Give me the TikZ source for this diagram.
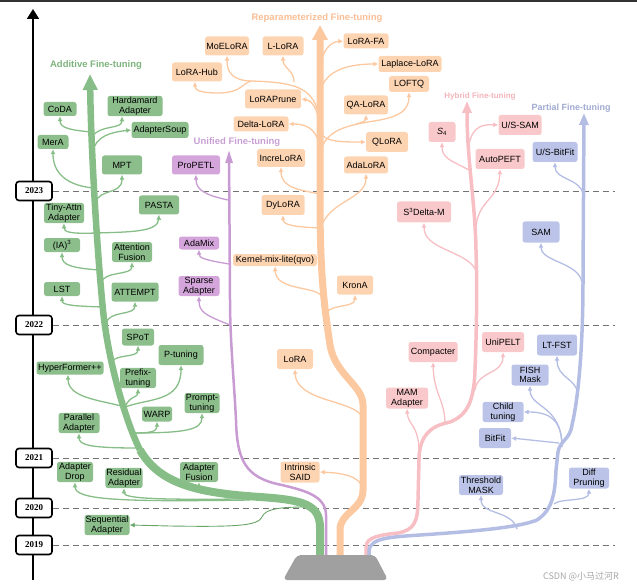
\documentclass[tikz,border=0pt]{standalone}
\usepackage{fontspec}
\setmainfont{Liberation Sans}
\newfontfamily\yearfont{Liberation Serif}
\newfontfamily\cjk{Noto Sans CJK SC}
\usetikzlibrary{arrows.meta,calc}
\pgfdeclarelayer{bg}
\pgfsetlayers{bg,main}

\definecolor{gfill}{RGB}{140,190,140}
\definecolor{gline}{RGB}{135,190,135}
\definecolor{gdark}{RGB}{105,165,105}
\definecolor{gtitle}{RGB}{125,180,125}
\definecolor{ofill}{RGB}{253,212,178}
\definecolor{oline}{RGB}{252,200,160}
\definecolor{otitle}{RGB}{250,190,150}
\definecolor{pfill}{RGB}{212,165,218}
\definecolor{pline}{RGB}{200,155,210}
\definecolor{ptitle}{RGB}{200,160,212}
\definecolor{rfill}{RGB}{249,200,202}
\definecolor{rline}{RGB}{247,190,195}
\definecolor{rtitle}{RGB}{243,180,186}
\definecolor{bfill}{RGB}{187,196,232}
\definecolor{bline}{RGB}{180,190,228}
\definecolor{btitle}{RGB}{160,170,210}
\definecolor{pedestal}{RGB}{160,160,160}

% box: style, name, centre, width, height, text
\newcommand{\mkbox}[6]{\node[#1,minimum width=#4pt,minimum height=#5pt] (#2) at (#3) {#6};}

\tikzset{
  box/.style={rounded corners=2.5pt, inner sep=1pt, align=center,
    font=\fontsize{9}{9.8}\selectfont, text=black},
  gbox/.style={box, fill=gfill},
  obox/.style={box, fill=ofill},
  pbox/.style={box, fill=pfill},
  rbox/.style={box, fill=rfill},
  bbox/.style={box, fill=bfill},
  yearbox/.style={draw=black, line width=1.6pt, fill=white, rounded corners=3pt,
    minimum width=36pt, minimum height=19pt, inner sep=0pt,
    font=\yearfont\bfseries\fontsize{9}{9}\selectfont},
  title/.style={font=\bfseries\fontsize{9.5}{10}\selectfont, inner sep=0pt},
  br/.style={line width=1.3pt, -{Latex[length=5pt,width=5pt]}},
  gbr/.style={br, draw=gline},
  obr/.style={br, draw=oline},
  pbr/.style={br, draw=pline},
  rbr/.style={br, draw=rline},
  bbr/.style={br, draw=bline},
  dashline/.style={draw=black!55, line width=0.9pt, dash pattern=on 6pt off 4pt},
}

\begin{document}
\begin{tikzpicture}[x=1pt,y=-1pt]
\useasboundingbox (0,0) rectangle (637,588);
\fill[black!80] (0,0) rectangle (637,2);

% years
\node[yearbox] (Y23) at (34,191) {2023};
\node[yearbox] (Y22) at (34,325) {2022};
\node[yearbox] (Y21) at (34,458) {2021};
\node[yearbox] (Y20) at (34,508) {2020};
\node[yearbox] (Y19) at (34,545) {2019};

% category titles
\node[title, text=gtitle] (tAdd) at (96,65) {Additive Fine-tuning};
\node[title, text=otitle] (tRep) at (317,18) {Reparameterized Fine-tuning};
\node[title, text=ptitle] (tUni) at (237,142) {Unified Fine-tuning};
\node[title, text=rtitle, font=\bfseries\fontsize{8}{9}\selectfont] (tHyb) at (480,96) {Hybrid Fine-tuning};
\node[title, text=btitle, font=\bfseries\fontsize{9}{10}\selectfont] (tPar) at (571,108) {Partial Fine-tuning};

% additive
\mkbox{gbox}{CoDA}{60,109}{33}{14}{CoDA}
\mkbox{gbox}{Hard}{135,106}{55}{20}{Hardamard\\Adapter}
\mkbox{gbox}{Soup}{160,130}{57}{16}{AdapterSoup}
\mkbox{gbox}{MerA}{53,142}{31}{14}{MerA}
\mkbox{gbox}{MPT}{122,165}{40}{19}{MPT}
\mkbox{gbox}{Tiny}{64,213}{40}{20}{Tiny-Attn\\Adapter}
\mkbox{gbox}{PASTA}{159,205}{40}{19}{PASTA}
\mkbox{gbox}{IA}{62,245}{36}{14}{(IA)\textsuperscript{3}}
\mkbox{gbox}{AF}{132,252}{40}{20}{Attention\\Fusion}
\mkbox{gbox}{LST}{62,289}{36}{14}{LST}
\mkbox{gbox}{ATTEMPT}{135,292}{47}{19}{ATTEMPT}
\mkbox{gbox}{SPoT}{138,337}{32}{17}{SPoT}
\mkbox{gbox}{Ptun}{181,355}{45}{20}{P-tuning}
\mkbox{gbox}{HF}{70,368}{67}{13}{HyperFormer++}
\mkbox{gbox}{Prefix}{138,378}{36}{20}{Prefix-\\tuning}
\mkbox{gbox}{Prompt}{202,403}{35}{20}{Prompt-\\tuning}
\mkbox{gbox}{WARP}{157,414}{30}{15}{WARP}
\mkbox{gbox}{Parallel}{79,423}{41}{20}{Parallel\\Adapter}
\mkbox{gbox}{Drop}{75,472}{36}{20}{Adapter\\Drop}
\mkbox{gbox}{Resid}{124,478}{37}{20}{Residual\\Adapter}
\mkbox{gbox}{Fusion}{199,472}{38}{20}{Adapter\\Fusion}
\mkbox{gbox}{Seq}{107,525}{45}{20}{Sequential\\Adapter}

% unified
\mkbox{pbox}{ProPETL}{196,165}{48}{19}{ProPETL}
\mkbox{pbox}{AdaMix}{199,243}{40}{13}{AdaMix}
\mkbox{pbox}{Sparse}{199,286}{41}{20}{Sparse\\Adapter}

% reparameterized
\mkbox{obox}{MoE}{227,46}{44}{19}{MoELoRA}
\mkbox{obox}{LLoRA}{283,46}{41}{19}{L-LoRA}
\mkbox{obox}{FA}{366,41}{45}{15}{LoRA-FA}
\mkbox{obox}{Hub}{197,72}{50}{19}{LoRA-Hub}
\mkbox{obox}{Laplace}{410,64}{63}{16}{Laplace-LoRA}
\mkbox{obox}{LOFTQ}{409,84}{40}{16}{LOFTQ}
\mkbox{obox}{Prune}{273,99}{56}{19}{LoRAPrune}
\mkbox{obox}{QA}{366,105}{44}{19}{QA-LoRA}
\mkbox{obox}{Delta}{261,124}{55}{15}{Delta-LoRA}
\mkbox{obox}{QLoRA}{387,142}{42}{20}{QLoRA}
\mkbox{obox}{Incre}{281,158}{48}{18}{IncreLoRA}
\mkbox{obox}{Ada}{366,165}{44}{17}{AdaLoRA}
\mkbox{obox}{Dy}{283,205}{43}{20}{DyLoRA}
\mkbox{obox}{Kernel}{275,260}{84}{12}{Kernel-mix-lite(qvo)}
\mkbox{obox}{KronA}{355,285}{36}{19}{KronA}
\mkbox{obox}{LoRA}{295,359}{36}{20}{LoRA}
\mkbox{obox}{SAID}{300,472}{39}{21}{Intrinsic\\SAID}

% hybrid
\mkbox{rbox}{S4}{442,132}{27}{20}{{\itshape S}\textsubscript{4}}
\mkbox{rbox}{USSAM}{520,125}{43}{20}{U/S-SAM}
\mkbox{rbox}{AutoPEFT}{500,159}{49}{20}{AutoPEFT}
\mkbox{rbox}{S3}{424,212}{54}{21}{S\textsuperscript{3}Delta-M}
\mkbox{rbox}{Compacter}{433,352}{49}{20}{Compacter}
\mkbox{rbox}{UniPELT}{503,342}{42}{20}{UniPELT}
\mkbox{rbox}{MAM}{407,398}{42}{21}{MAM\\Adapter}

% partial
\mkbox{bbox}{USBitFit}{555,152}{45}{20}{U/S-BitFit}
\mkbox{bbox}{SAM}{541,232}{37}{21}{SAM}
\mkbox{bbox}{LTFST}{557,345}{40}{21}{LT-FST}
\mkbox{bbox}{FISH}{530,375}{37}{21}{FISH\\Mask}
\mkbox{bbox}{Child}{503,412}{41}{20}{Child\\tuning}
\mkbox{bbox}{BitFit}{495,438}{32}{20}{BitFit}
\mkbox{bbox}{Thr}{481,485}{44}{20}{Threshold\\MASK}
\mkbox{bbox}{Diff}{589,478}{40}{21}{Diff\\Pruning}

\node[font=\cjk\fontsize{9}{9}\selectfont, text=black!35, inner sep=0pt] (wm) at (581,577) {CSDN @小马过河R};

\begin{pgfonlayer}{bg}
% time axis and year lines
\draw[line width=2pt, -{Triangle[width=12pt,length=10pt]}] (33,580) -- (33,9);
\foreach \y/\n in {191/Y23,325/Y22,458/Y21,508/Y20,545/Y19}
  \draw[dashline] (\n.east) -- (615,\y);

% additive branches
\draw[gbr] (91,132) .. controls (70,130) and (60,128) .. (CoDA.south);
\draw[gbr] (92,137) .. controls (100,124) and (122,130) .. ([xshift=-13pt]Hard.south);
\draw[gbr] (93,152) .. controls (95,136) and (112,132) .. (Soup.west);
\draw[gbr] (93,188) .. controls (65,185) and (53,172) .. (MerA.south);
\draw[gbr] (95,203) .. controls (100,188) and (122,195) .. (MPT.south);
\draw[gbr] (96,233) .. controls (70,234) and (64,232) .. (Tiny.south);
\draw[gbr] (96,233) .. controls (130,232) and (158,232) .. (PASTA.south);
\draw[gbr] (99,270) .. controls (72,268) and (62,265) .. (IA.south);
\draw[gbr] (100,284) .. controls (104,270) and (132,276) .. (AF.south);
\draw[gbr] (102,307) .. controls (72,306) and (62,305) .. (LST.south);
\draw[gbr] (106,324) .. controls (108,310) and (135,316) .. (ATTEMPT.south);
\draw[gbr] (112,362) .. controls (115,354) and (138,358) .. (SPoT.south);
\draw[gbr] (125,407) .. controls (100,400) and (68,398) .. ([xshift=-2pt]HF.south);
\draw[gbr] (125,407) .. controls (130,395) and (138,398) .. (Prefix.south);
\draw[gbr] (125,407) .. controls (150,398) and (181,402) .. (Ptun.south);
\draw[gbr] (132,433) .. controls (150,433) and (157,432) .. (WARP.south);
\draw[gbr] (132,433) .. controls (185,433) and (202,430) .. (Prompt.south);
\draw[gbr] (138,448) .. controls (90,448) and (79,445) .. (Parallel.south);
\draw[gbr] (250,500) .. controls (120,502) and (75,500) .. (Drop.south);
\draw[gbr] (240,499) .. controls (150,500) and (124,498) .. (Resid.south);
\draw[gbr] (235,497) .. controls (210,495) and (199,493) .. (Fusion.south);
\draw[draw=gdark, line width=0.9pt, -{Latex[length=5pt,width=5pt]}]
  (305,507) .. controls (275,507) and (265,510) .. (262,517)
  .. controls (258,526) and (235,527) .. (170,526) -- (Seq.east);

% unified branches
\draw[pbr] (228,200) .. controls (205,195) and (196,190) .. (ProPETL.south);
\draw[pbr] (229,264) .. controls (205,260) and (199,258) .. (AdaMix.south);
\draw[pbr] (230,325) .. controls (205,315) and (199,312) .. (Sparse.south);

% reparameterized branches
\draw[obr] (318,112) .. controls (312,88) and (295,82) .. (250,81)
  .. controls (232,80) and (227,72) .. (MoE.south);
\draw[obr] (294,82) .. controls (294,70) and (283,68) .. (LLoRA.south);
\draw[obr] (252,81) .. controls (243,82) and (242,93) .. (218,93)
  .. controls (200,93) and (195,90) .. ([xshift=-2pt]Hub.south);
\draw[obr] (319,120) .. controls (316,105) and (310,100) .. (Prune.east);
\draw[obr] (319,144) .. controls (316,128) and (305,124) .. (Delta.east);
\draw[obr] (320,70) .. controls (322,50) and (330,42) .. (FA.west);
\draw[obr] (320,95) .. controls (322,72) and (345,64) .. (Laplace.west);
\draw[obr] (320,154) .. controls (325,128) and (350,125) .. (380,120)
  .. controls (400,116) and (409,110) .. (LOFTQ.south);
\draw[obr] (356,124) .. controls (365,122) and (366,120) .. (QA.south);
\draw[obr] (320,132) .. controls (325,142) and (340,142) .. (QLoRA.west);
\draw[obr] (320,194) .. controls (300,190) and (281,188) .. (Incre.south);
\draw[obr] (320,230) .. controls (328,200) and (366,200) .. (Ada.south);
\draw[obr] (320,228) .. controls (295,227) and (283,225) .. (Dy.south);
\draw[obr] (323,298) .. controls (318,285) and (276,292) .. (Kernel.south);
\draw[obr] (327,313) .. controls (330,304) and (355,308) .. (KronA.south);
\draw[obr] (362,417) .. controls (355,400) and (296,402) .. (LoRA.south);
\draw[obr] (363,489) .. controls (360,475) and (340,473) .. (SAID.east);

% hybrid branches
\draw[rbr] (469,170) .. controls (450,160) and (442,158) .. (S4.south);
\draw[rbr] (468,152) .. controls (470,128) and (480,124) .. (USSAM.west);
\draw[rbr] (476,227) .. controls (478,200) and (499,200) .. (AutoPEFT.south);
\draw[rbr] (476,270) .. controls (465,250) and (424,250) .. (S3.south);
\draw[rbr] (445,424) .. controls (445,400) and (434,395) .. (Compacter.south);
\draw[rbr] (475,390) .. controls (478,370) and (503,375) .. (UniPELT.south);
\draw[rbr] (419,452) .. controls (419,425) and (408,425) .. (MAM.south);

% partial branches
\draw[bbr] (583,194) .. controls (580,178) and (555,180) .. (USBitFit.south);
\draw[bbr] (582,282) .. controls (578,262) and (541,262) .. (SAM.south);
\draw[bbr] (578,394) .. controls (576,378) and (557,378) .. (LTFST.south);
\draw[bbr] (562,447) .. controls (562,405) and (530,408) .. (FISH.south);
\draw[bbr] (562,447) .. controls (562,420) and (550,412) .. (Child.east);
\draw[bbr] (559,443) -- (BitFit.east);
\draw[bbr] (517,529) .. controls (512,510) and (481,515) .. (Thr.south);
\draw[bbr] (554,504) .. controls (560,498) and (589,502) .. (Diff.south);

% trunks
\draw[draw=pline, line width=2.5pt, -{Triangle[width=7pt,length=13pt]}]
  (326,556) -- (326,515) .. controls (326,495) and (302,490) .. (282,485)
  .. controls (245,478) and (237,460) .. (236,420)
  .. controls (234,380) and (230,340) .. (230,300) -- (229,150);
\draw[draw=rline, line width=3.5pt, -{Triangle[width=9pt,length=12pt]}]
  (366,556) -- (366,547) .. controls (366,537) and (380,535) .. (398,533)
  .. controls (414,530) and (418,522) .. (418,500) -- (419,460)
  .. controls (419,432) and (435,425) .. (450,422)
  .. controls (468,415) and (474,400) .. (475,370)
  .. controls (477,320) and (477,280) .. (476,250)
  .. controls (475,200) and (467,160) .. (467,101);
\draw[draw=bline, line width=3.5pt, -{Triangle[width=9pt,length=12pt]}]
  (369,556) -- (369,550) .. controls (371,538) and (390,537) .. (420,535)
  .. controls (480,531) and (520,527) .. (537,520)
  .. controls (552,510) and (555,495) .. (556,470) -- (558,452)
  .. controls (560,440) and (570,440) .. (572,425)
  .. controls (578,400) and (583,350) .. (583,280) -- (584,113);
\draw[draw=oline, line width=7pt, -{Triangle[width=15pt,length=15pt]}]
  (340,556) -- (340,530) .. controls (340,512) and (363,510) .. (363,490)
  -- (363,405) .. controls (363,385) and (335,375) .. (330,345)
  .. controls (325,310) and (320,280) .. (320,200) -- (320,25);
\draw[draw=gline, line width=8pt]
  (320,556) -- (320,528) .. controls (320,505) and (305,500) .. (260,497)
  .. controls (200,493) and (160,485) .. (140,450);
\draw[draw=gline, line width=6.5pt, -{Triangle[width=14pt,length=16pt]}]
  (140,450) .. controls (125,420) and (108,360) .. (103,310)
  .. controls (97,250) and (91,150) .. (90,74);

% pedestal
\fill[pedestal, rounded corners=4pt] (297,555) -- (375,555) -- (388,580) -- (283,580) -- cycle;
\end{pgfonlayer}
\end{tikzpicture}
\end{document}
